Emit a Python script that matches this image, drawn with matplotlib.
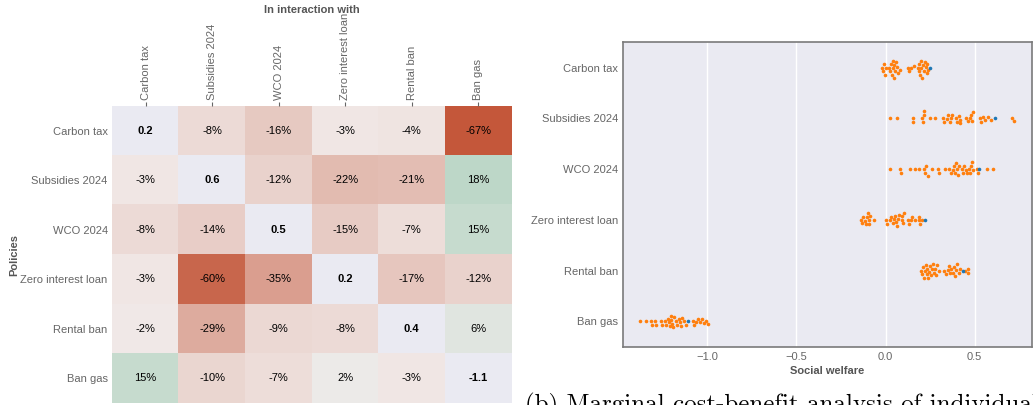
import numpy as np
import matplotlib.pyplot as plt
import pandas as pd
import seaborn as sns
from matplotlib.colors import LinearSegmentedColormap

plt.rcParams['font.family'] = ['Liberation Sans', 'DejaVu Sans']
plt.rcParams['font.size'] = 8

policies = ["Carbon tax", "Subsidies 2024", "WCO 2024",
            "Zero interest loan", "Rental ban", "Ban gas"]

# rows: policy, columns: in interaction with (%), diagonal: own welfare
interaction = [
    [0.2, -8, -16, -3, -4, -67],
    [-3, 0.6, -12, -22, -21, 18],
    [-8, -14, 0.5, -15, -7, 15],
    [-3, -60, -35, 0.2, -17, -12],
    [-2, -29, -9, -8, 0.4, 6],
    [15, -10, -7, 2, -3, -1.1],
]

# social welfare of each run, per policy
carbon_tax = [-0.02, -0.015, -0.01, -0.005, 0.0, 0.02, 0.025, 0.03, 0.035, 0.04,
              0.04, 0.045, 0.05, 0.055, 0.06, 0.065, 0.07, 0.08, 0.125, 0.13,
              0.145, 0.16, 0.18, 0.185, 0.19, 0.195, 0.2, 0.2, 0.205, 0.21,
              0.215, 0.22, 0.225, 0.23, 0.235, 0.24]
subsidies = [0.024, 0.065, 0.153, 0.156, 0.205, 0.21, 0.215, 0.218, 0.25, 0.277,
             0.325, 0.33, 0.345, 0.35, 0.36, 0.37, 0.375, 0.395, 0.4, 0.41,
             0.415, 0.42, 0.45, 0.462, 0.475, 0.48, 0.487, 0.492, 0.53, 0.535,
             0.548, 0.56, 0.575, 0.59, 0.71, 0.722]
wco = [0.024, 0.082, 0.086, 0.14, 0.165, 0.19, 0.218, 0.222, 0.226, 0.236,
       0.258, 0.294, 0.298, 0.333, 0.358, 0.365, 0.378, 0.385, 0.39, 0.395,
       0.4, 0.405, 0.41, 0.43, 0.435, 0.44, 0.45, 0.455, 0.47, 0.475,
       0.48, 0.485, 0.49, 0.515, 0.52, 0.567, 0.605]
zero_loan = [-0.14, -0.13, -0.125, -0.115, -0.11, -0.105, -0.1, -0.095, -0.09,
             -0.085, -0.065, 0.005, 0.01, 0.025, 0.03, 0.04, 0.045, 0.055, 0.06,
             0.065, 0.07, 0.075, 0.09, 0.095, 0.1, 0.105, 0.125, 0.13, 0.145,
             0.15, 0.165, 0.185, 0.19, 0.195, 0.205]
rental_ban = [0.2, 0.205, 0.21, 0.215, 0.22, 0.225, 0.23, 0.235, 0.24, 0.245,
              0.25, 0.255, 0.26, 0.265, 0.27, 0.28, 0.285, 0.29, 0.3, 0.33,
              0.34, 0.35, 0.355, 0.36, 0.37, 0.38, 0.385, 0.39, 0.395, 0.4,
              0.41, 0.42, 0.445, 0.46, 0.465]
ban_gas = [-1.375, -1.345, -1.315, -1.31, -1.29, -1.285, -1.26, -1.255, -1.235,
           -1.23, -1.22, -1.215, -1.21, -1.205, -1.2, -1.195, -1.19, -1.185,
           -1.175, -1.17, -1.16, -1.15, -1.145, -1.14, -1.13, -1.12, -1.08,
           -1.075, -1.06, -1.05, -1.04, -1.03, -1.02, -1.005, -0.995]
reference = [0.25, 0.614, 0.524, 0.221, 0.436, -1.109]

caption = "(b) Marginal cost-benefit analysis of individual policies"

label_col = "#666666"
title_col = "#555555"
bg = "#EAEAF2"

fig = plt.figure(figsize=(10.33, 4.05), dpi=100)

# ---- heatmap
ax = fig.add_axes([0.1087, 0.0042, 0.3866, 0.7348])
m = np.array(interaction, dtype=float)
n = len(policies)
diag = np.eye(n, dtype=bool)
cmap = LinearSegmentedColormap.from_list("rg", ["#C4573A", "#F2EDEC", "#2F9E68"])
ax.set_facecolor(bg)
ax.imshow(np.ma.masked_where(diag, m), cmap=cmap, vmin=-67, vmax=67, aspect="auto")
for i in range(n):
    for j in range(n):
        if i == j:
            ax.text(j, i, f"{m[i, j]:.1f}", ha="center", va="center",
                    fontweight="bold", color="black")
        else:
            ax.text(j, i, f"{m[i, j]:.0f}%", ha="center", va="center", color="black")
ax.xaxis.tick_top()
ax.set_xticks(range(n))
ax.set_xticklabels(policies, rotation=90, color=label_col)
ax.set_yticks(range(n))
ax.set_yticklabels(policies, color=label_col)
ax.tick_params(axis="x", length=3, width=0.8, color=label_col, pad=1)
ax.tick_params(axis="y", length=0, pad=3.3)
ax.xaxis.set_label_position("top")
ax.set_xlabel("In interaction with", fontweight="bold", color=title_col, labelpad=0)
ax.set_ylabel("Policies", fontweight="bold", color=title_col, labelpad=1)
for s in ax.spines.values():
    s.set_visible(False)

# ---- swarm
ax2 = fig.add_axes([0.6034, 0.1440, 0.3954, 0.7516])
ax2.set_facecolor(bg)
runs = [carbon_tax, subsidies, wco, zero_loan, rental_ban, ban_gas]
df = pd.DataFrame({
    "policy": [p for p, r in zip(policies, runs) for _ in r],
    "welfare": [v for r in runs for v in r],
})
sns.swarmplot(data=df, x="welfare", y="policy", order=policies, ax=ax2,
              color="#FF7F0E", size=2.6, linewidth=0)
ax2.scatter(reference, range(n), color="#1F77B4", s=2.6 ** 2, linewidth=0, zorder=4)
ax2.set_xlim(-1.47, 0.82)
ax2.set_ylim(n - 0.5, -0.5)
ax2.set_xticks([-1.0, -0.5, 0.0, 0.5])
ax2.grid(axis="x", color="white", linewidth=1.0)
ax2.grid(axis="y", visible=False)
ax2.set_axisbelow(True)
ax2.tick_params(length=0, pad=4, labelcolor=label_col)
ax2.set_ylabel("")
ax2.set_xlabel("Social welfare", fontweight="bold", color=title_col, labelpad=3)
for s in ax2.spines.values():
    s.set_color("#7a7a7a")
    s.set_linewidth(1.2)

fig.text(525 / 1033, 1 - 393 / 405, caption, family="cmr10", fontsize=18,
         va="top", ha="left", color="black")

fig.savefig("out.png", dpi=100)
